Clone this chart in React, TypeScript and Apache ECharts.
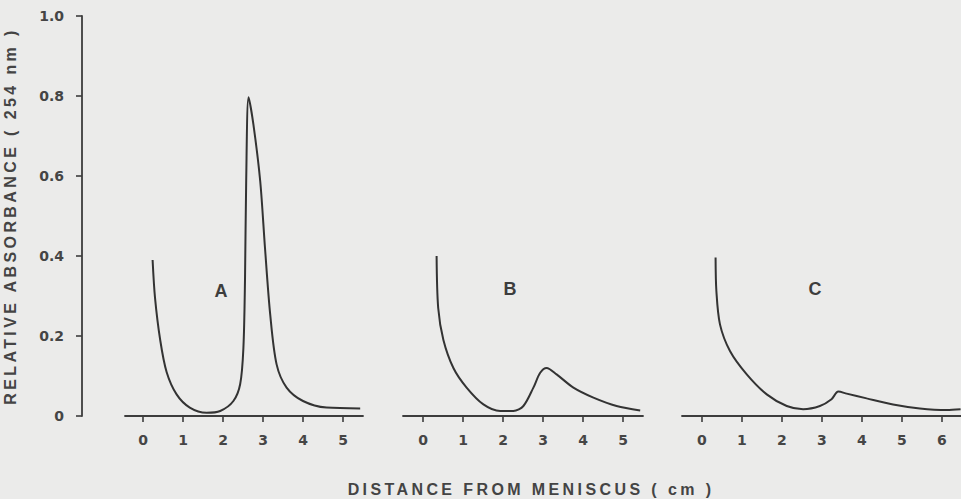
import React, { useEffect, useRef } from "react";
import * as echarts from "echarts";

// Panel A
const distA = [0.24, 0.3, 0.43, 0.59, 0.84, 1.17, 1.59, 1.93, 2.26, 2.43, 2.51, 2.55, 2.58, 2.64, 2.76, 2.93, 3.05, 3.18, 3.34, 3.59, 4.0, 4.59, 5.43];
const absA = [0.39, 0.296, 0.19, 0.11, 0.054, 0.021, 0.008, 0.0125, 0.0375, 0.08, 0.17, 0.34, 0.59, 0.797, 0.729, 0.5875, 0.42, 0.254, 0.129, 0.071, 0.0375, 0.021, 0.019];
// Panel B
const distB = [0.34, 0.38, 0.51, 0.76, 1.09, 1.51, 1.93, 2.26, 2.51, 2.76, 2.93, 3.09, 3.34, 3.76, 4.26, 4.84, 5.43];
const absB = [0.4, 0.27, 0.19, 0.12, 0.071, 0.029, 0.0125, 0.0125, 0.025, 0.071, 0.108, 0.12, 0.104, 0.071, 0.046, 0.025, 0.014];
// Panel C
const distC = [0.34, 0.36, 0.45, 0.7, 1.12, 1.62, 2.12, 2.53, 2.95, 3.24, 3.41, 3.62, 4.12, 4.78, 5.45, 6.12, 6.47];
const absC = [0.396, 0.3125, 0.229, 0.1625, 0.104, 0.054, 0.025, 0.017, 0.025, 0.042, 0.061, 0.056, 0.044, 0.029, 0.019, 0.015, 0.017];

const ticksAB = [0, 1, 2, 3, 4, 5];
const ticksC = [0, 1, 2, 3, 4, 5, 6];
const panelNames = ["A", "B", "C"];
const yTitle = "RELATIVE ABSORBANCE ( 254 nm )";
const xTitle = "DISTANCE FROM MENISCUS ( cm )";

const INK = "#3d3d3d";
const FONT = "Liberation Sans";
const NUM_FONT = "DejaVu Sans";

const pairs = (xs: number[], ys: number[]) => xs.map((x, i) => [x, ys[i]]);

export default function App() {
  const ref = useRef<HTMLDivElement>(null);
  useEffect(() => {
    if (!ref.current) return;
    const el = ref.current;
    const chart = echarts.init(el, null, { renderer: "svg" });
    const xAxisBase = (gridIndex: number, min: number, max: number, ticks: number[]) => ({
      type: "value",
      gridIndex,
      min,
      max,
      splitLine: { show: false },
      axisLine: { show: true, onZero: false, lineStyle: { color: INK, width: 1.8 } },
      axisTick: { show: true, inside: false, length: 6, customValues: ticks, lineStyle: { color: INK, width: 1.6 } },
      axisLabel: {
        customValues: ticks,
        margin: 17,
        color: "#454545",
        fontSize: 14,
        fontWeight: "bold",
        fontFamily: NUM_FONT,
      },
    });
    const yHidden = (gridIndex: number) => ({
      type: "value",
      gridIndex,
      min: 0,
      max: 1,
      show: false,
    });
    const lineSeries = (idx: number, data: number[][]) => ({
      type: "line",
      xAxisIndex: idx,
      yAxisIndex: idx,
      data,
      smooth: 0.3,
      showSymbol: false,
      lineStyle: { color: "#333", width: 2 },
    });
    chart.setOption({
      animation: false,
      backgroundColor: "#ebebea",
      grid: [
        { left: 125, top: 16, width: 238, height: 400 },
        { left: 403, top: 16, width: 240, height: 400 },
        { left: 682, top: 16, width: 279, height: 400 },
      ],
      xAxis: [
        xAxisBase(0, -0.45, 5.5, ticksAB),
        xAxisBase(1, -0.5, 5.5, ticksAB),
        xAxisBase(2, -0.5, 6.48, ticksC),
      ],
      yAxis: [
        {
          type: "value",
          gridIndex: 0,
          min: 0,
          max: 1,
          interval: 0.2,
          offset: 43,
          position: "left",
          splitLine: { show: false },
          axisLine: { show: true, onZero: false, lineStyle: { color: INK, width: 1.8 } },
          axisTick: { show: true, length: 6, lineStyle: { color: INK, width: 1.6 } },
          axisLabel: {
            margin: 18,
            color: "#454545",
            fontSize: 14,
            fontWeight: "bold",
            fontFamily: NUM_FONT,
            formatter: (v: number) => (v === 0 ? "0" : v.toFixed(1)),
          },
          name: yTitle,
          nameLocation: "middle",
          nameRotate: 90,
          nameGap: 64,
          nameTextStyle: {
            color: "#444",
            fontSize: 16,
            fontWeight: "bold",
            fontFamily: FONT,
          },
        },
        yHidden(1),
        yHidden(2),
      ],
      graphic: [
        { type: "text", x: 221, y: 291, style: { text: panelNames[0], fill: INK, font: `bold 18px "${FONT}"`, align: "center", verticalAlign: "middle" } },
        { type: "text", x: 510, y: 289, style: { text: panelNames[1], fill: INK, font: `bold 18px "${FONT}"`, align: "center", verticalAlign: "middle" } },
        { type: "text", x: 815, y: 289, style: { text: panelNames[2], fill: INK, font: `bold 18px "${FONT}"`, align: "center", verticalAlign: "middle" } },
        { type: "text", x: 531, y: 489, style: { text: xTitle, fill: "#444", font: `bold 16px "${FONT}"`, align: "center", verticalAlign: "middle" } },
      ],
      series: [
        lineSeries(0, pairs(distA, absA)),
        lineSeries(1, pairs(distB, absB)),
        lineSeries(2, pairs(distC, absC)),
      ],
    });
    const spaceTitles = () => {
      el.querySelectorAll("text").forEach((t) => {
        const s = t.textContent || "";
        if (s === xTitle || s === yTitle) {
          (t as SVGTextElement).style.letterSpacing = "3.4px";
        }
      });
    };
    spaceTitles();
    chart.on("finished", spaceTitles);
    const timer = window.setTimeout(spaceTitles, 50);
    return () => {
      window.clearTimeout(timer);
      chart.dispose();
    };
  }, []);
  return (
    <div
      ref={ref}
      style={{ position: "fixed", left: 0, top: 0, width: 961, height: 499 }}
    />
  );
}
